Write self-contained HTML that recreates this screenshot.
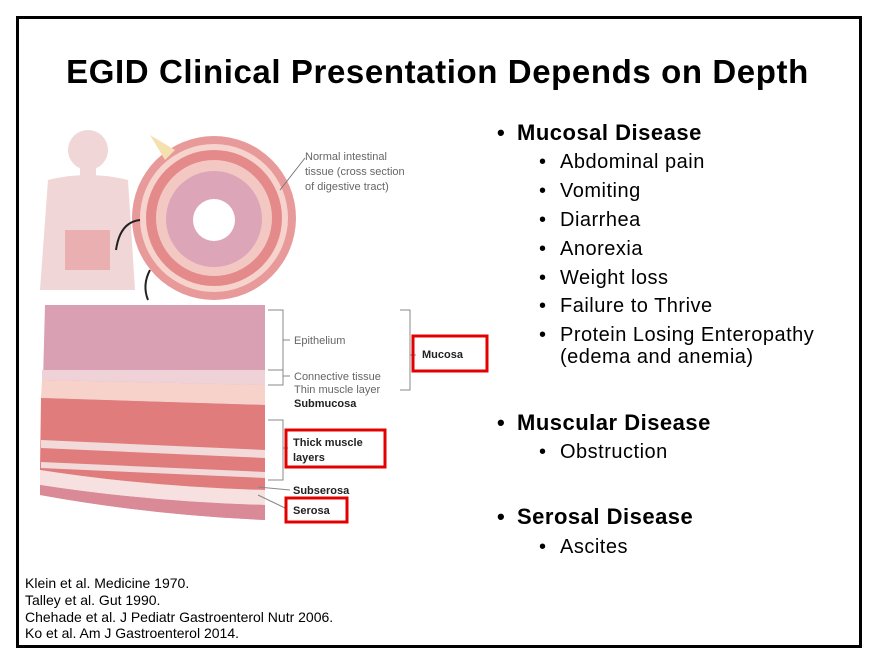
<!DOCTYPE html>
<html><head><meta charset="utf-8"><style>
body{margin:0;width:875px;height:657px;background:#fff;font-family:"Liberation Sans",Arial,sans-serif;position:relative;overflow:hidden}
.frame{position:absolute;left:16px;top:16px;width:840px;height:626px;border:3px solid #000}
.t{position:absolute;white-space:nowrap;color:#000}
h1{position:absolute;left:0;width:875px;top:53px;margin:0;text-align:center;font-size:33px;letter-spacing:0.6px;font-weight:bold}
.h{font-size:22px;font-weight:bold;letter-spacing:0.5px}
.s{font-size:20px;letter-spacing:0.5px}
.r{font-size:14px}
.b{position:absolute}
</style></head><body>
<div class="frame"></div>
<h1>EGID Clinical Presentation Depends on Depth</h1>
<svg width="875" height="657" style="position:absolute;left:0;top:0">
<g fill="#f0d6d6">
<circle cx="88" cy="150" r="20"/>
<rect x="80" y="165" width="16" height="15"/>
<path d="M48 180 Q88 170 128 180 L135 290 L40 290 Z"/>
</g>
<path d="M65 230 L110 230 L110 270 L65 270 Z" fill="#e8a5a8" opacity="0.8"/>
<circle cx="214" cy="218" r="82" fill="#e89a9a"/>
<circle cx="214" cy="218" r="74" fill="#f6d3cc"/>
<circle cx="214" cy="218" r="68" fill="#e48a8a"/>
<circle cx="214" cy="218" r="58" fill="#f3c8c2"/>
<circle cx="214" cy="219" r="48" fill="#dca6b8"/>
<circle cx="214" cy="220" r="21" fill="#fff"/>
<path d="M150 135 L175 150 L165 160 Z" fill="#f5e0b0"/>
<line x1="280" y1="190" x2="305" y2="158" stroke="#777" stroke-width="1"/>
<path d="M116 250 Q120 222 140 220" fill="none" stroke="#222" stroke-width="2"/>
<path d="M150 270 Q142 285 148 300" fill="none" stroke="#222" stroke-width="2"/>
<path d="M45 305 L265 305 L265 520 Q150 515 40 495 Z" fill="#d99fb3"/>
<path d="M42 370 L265 370 L265 385 L42 380 Z" fill="#efd2d8"/>
<path d="M42 380 L265 385 L265 405 L41 398 Z" fill="#f6d2ca"/>
<path d="M41 398 L265 405 L265 490 Q150 487 40 470 Z" fill="#e07c7c"/>
<path d="M41 440 L265 450 L265 458 L41 448 Z" fill="#f3dada"/>
<path d="M41 462 L265 472 L265 478 L41 468 Z" fill="#f3dada"/>
<path d="M40 470 Q150 487 265 490 L265 505 Q150 502 40 485 Z" fill="#f6e0e0"/>
<path d="M40 485 Q150 502 265 505 L265 520 Q150 515 40 495 Z" fill="#d98a96"/>
<g stroke="#888" fill="none" stroke-width="1">
<path d="M268 310 H283 V385 H268 M283 340 H290"/>
<path d="M268 370 H283 M283 376 H290"/>
<path d="M400 310 H410 V390 H400 M410 355 H416"/>
<path d="M268 420 H283 V480 H268 M283 448 H288"/>
<line x1="258" y1="487" x2="290" y2="490"/>
<line x1="258" y1="495" x2="285" y2="508"/>
</g>
<g fill="none" stroke="#e30000" stroke-width="3">
<rect x="413" y="336" width="74" height="35"/>
<rect x="286" y="430" width="99" height="37"/>
<rect x="286" y="498" width="61" height="24"/>
</g>
<g font-family="Liberation Sans,Arial,sans-serif" fill="#666" font-size="11">
<text x="305" y="160">Normal intestinal</text>
<text x="305" y="175">tissue (cross section</text>
<text x="305" y="190">of digestive tract)</text>
<text x="294" y="344">Epithelium</text>
<text x="294" y="380">Connective tissue</text>
<text x="294" y="393">Thin muscle layer</text>
</g>
<g font-family="Liberation Sans,Arial,sans-serif" fill="#222" font-size="11" font-weight="bold">
<text x="422" y="358">Mucosa</text>
<text x="294" y="407">Submucosa</text>
<text x="293" y="446">Thick muscle</text>
<text x="293" y="461">layers</text>
<text x="293" y="494">Subserosa</text>
<text x="293" y="514">Serosa</text>
</g>
</svg>
<div class="t h" style="left:497px;top:120px">•</div><div class="t h" style="left:517px;top:120px">Mucosal Disease</div>
<div class="t s" style="left:539px;top:151px">•</div><div class="t s" style="left:560px;top:151px">Abdominal pain</div>
<div class="t s" style="left:539px;top:180px">•</div><div class="t s" style="left:560px;top:180px">Vomiting</div>
<div class="t s" style="left:539px;top:209px">•</div><div class="t s" style="left:560px;top:209px">Diarrhea</div>
<div class="t s" style="left:539px;top:238px">•</div><div class="t s" style="left:560px;top:238px">Anorexia</div>
<div class="t s" style="left:539px;top:267px">•</div><div class="t s" style="left:560px;top:267px">Weight loss</div>
<div class="t s" style="left:539px;top:295px">•</div><div class="t s" style="left:560px;top:295px">Failure to Thrive</div>
<div class="t s" style="left:539px;top:324px">•</div><div class="t s" style="left:560px;top:324px">Protein Losing Enteropathy</div>
<div class="t s" style="left:560px;top:346px">(edema and anemia)</div>
<div class="t h" style="left:497px;top:410px">•</div><div class="t h" style="left:517px;top:410px">Muscular Disease</div>
<div class="t s" style="left:539px;top:441px">•</div><div class="t s" style="left:560px;top:441px">Obstruction</div>
<div class="t h" style="left:497px;top:504px">•</div><div class="t h" style="left:517px;top:504px">Serosal Disease</div>
<div class="t s" style="left:539px;top:536px">•</div><div class="t s" style="left:560px;top:536px">Ascites</div>
<div class="t r" style="left:25px;top:575px">Klein et al. Medicine 1970.</div>
<div class="t r" style="left:25px;top:592px">Talley et al. Gut 1990.</div>
<div class="t r" style="left:25px;top:609px">Chehade et al. J Pediatr Gastroenterol Nutr 2006.</div>
<div class="t r" style="left:25px;top:625px">Ko et al. Am J Gastroenterol 2014.</div>
</body></html>
